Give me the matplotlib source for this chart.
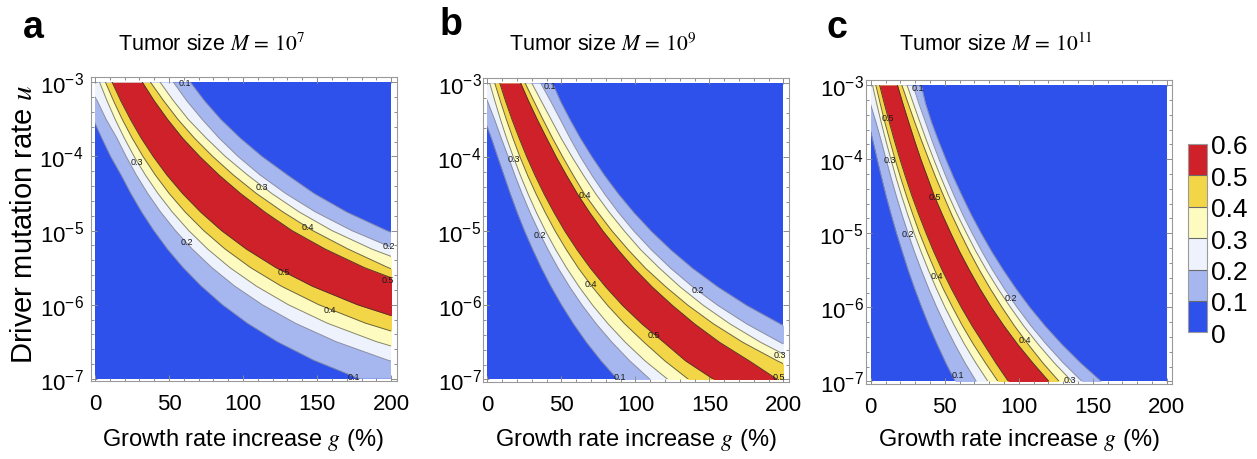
import matplotlib
matplotlib.use("Agg")
import matplotlib.pyplot as plt
import numpy as np
from matplotlib.colors import ListedColormap, BoundaryNorm
from matplotlib.cm import ScalarMappable
from matplotlib.patches import Rectangle
from matplotlib.ticker import MultipleLocator, FixedLocator, NullFormatter

plt.rcParams['font.family'] = ['Liberation Sans', 'DejaVu Sans']
plt.rcParams['mathtext.fontset'] = 'stix'

log_u = [-3, -3.25, -3.5, -3.75, -4, -4.25, -4.5, -4.75, -5,
         -5.25, -5.5, -5.75, -6, -6.25, -6.5, -6.75, -7]
levels = [0, 0.1, 0.2, 0.3, 0.4, 0.5, 0.6]
band_colors = ['#2e50eb', '#a6b7f0', '#eef2fc', '#fdfbbf', '#f2d647', '#cf2129']
line_colors = ['#7d86ad', '#8c8f9e', '#86866e', '#6c6540', '#5a3328']
tumor_exp = ['7', '9', '11']
panel_tags = ['a', 'b', 'c']

# g (%) of the contours 0.1 .. 0.5 on the lower-left side and upper-right side
a_lower = [[-12, -6, -1.2, 4.5, 10.5, 17.6, 24.2, 31.5, 39.7, 48.9, 59.5, 71.8, 86, 102.9, 123.1, 147.8, 178.6],
           [-6, 1.5, 7.5, 14.7, 21, 27.9, 35.6, 44.3, 54.3, 65.7, 78.9, 94.4, 112.9, 135.3, 162.9, 197.9, 243.5],
           [3.1, 8.1, 13.6, 19.7, 26.4, 34, 42.5, 52.2, 63.3, 76.1, 91.1, 109, 130.5, 156.9, 190.2, 233, 292],
           [7.1, 12.5, 18.4, 25, 32.4, 40.7, 50.1, 60.9, 73.4, 87.9, 105.1, 125.8, 151.1, 182.8, 223.7, 278, 355],
           [11.6, 17.4, 23.9, 31.1, 39.3, 48.5, 59.1, 71.3, 85.4, 102.2, 122.2, 146.7, 177.2, 216, 268, 341, 449]]
a_upper = [[64.5, 74, 85, 98, 112.8, 130, 148, 170, 197, 230, 274, 332, 411, 520, 680, 900, 1200],
           [53, 62, 72.4, 83.7, 96.6, 111.5, 128.8, 149, 173.4, 203, 240, 287, 349, 430, 540, 680, 860],
           [44, 53, 63, 75, 88, 103, 119.4, 138, 160, 187, 220, 261, 314, 385, 470, 580, 720],
           [37.5, 46.4, 56, 67, 79.5, 93.4, 109, 127, 147, 171, 198, 233, 278, 335, 410, 500, 620],
           [32, 40, 49, 59, 70.7, 83.7, 98.3, 114.7, 133, 155.5, 182, 215, 255, 305, 370, 450, 550]]

b_lower = [[-12, -6.5, -1.8, 2.8, 7, 11.3, 15.6, 20.2, 25.2, 30.7, 36.6, 43.1, 50.3, 58.2, 67, 76.9, 88],
           [-5, 0.2, 5, 9.5, 14.2, 18.7, 23.6, 28.9, 34.7, 41, 47.9, 55.6, 64.1, 73.6, 84.3, 96.3, 110],
           [1.6, 5.2, 9, 13.1, 17.6, 22.4, 27.6, 33.2, 39.4, 46.2, 53.7, 62, 71.2, 81.6, 93.3, 106.6, 122],
           [5, 8.9, 13, 17.4, 22.1, 27.3, 33, 39.2, 45.9, 53.4, 61.6, 70.9, 81.2, 92.8, 106, 120, 136],
           [8.4, 12.4, 16.8, 21.6, 26.7, 32.3, 38.4, 45.1, 52.4, 60.6, 69.7, 79.9, 91.3, 104.4, 119.3, 134, 153]]
b_upper = [[44, 49.5, 56, 63, 70.8, 79.3, 88.7, 99.1, 110.8, 123.9, 138.7, 155.7, 175.2, 198, 225, 257, 296.5],
           [36, 42.9, 49.5, 56, 63, 70.8, 79.3, 88.7, 99.1, 110.8, 123.9, 138.7, 155.7, 175.2, 198, 225, 257],
           [30, 36.6, 43.3, 50, 57.3, 65.1, 73.4, 82.6, 92.7, 103.6, 116.4, 130.2, 145.9, 163.9, 184.8, 209, 238],
           [25.5, 31.6, 37.8, 44.2, 51, 58.2, 65.7, 74.8, 84.4, 95.2, 106.9, 120.6, 135.6, 152.8, 172.7, 196, 222.6],
           [22.5, 28, 33.9, 40.2, 46.6, 53.6, 61, 69.2, 78.2, 88.3, 99.1, 111.3, 125, 140, 157, 177, 196]]

c_lower = [[-10, -5.5, -1.5, 1.4, 4.3, 7.3, 10.4, 13.8, 17.4, 21.3, 25.3, 29.7, 34.4, 39.4, 44.9, 50.7, 57.1],
           [-4, -0.3, 3.5, 7, 10.3, 13.7, 17.3, 21.1, 25.2, 29.5, 34.2, 39.2, 44.6, 50.5, 56.8, 63.7, 71.3],
           [1.2, 4, 7, 10.2, 13.6, 17.1, 20.9, 25, 29.3, 34, 39, 44.4, 50.2, 56.6, 63.4, 71, 79.2],
           [3.4, 6.4, 9.5, 12.9, 16.4, 20.2, 24.2, 28.5, 33, 38, 43.3, 49, 55.3, 62, 69.4, 77.5, 86],
           [6, 9.2, 12.5, 16, 19.7, 23.7, 27.9, 32.5, 37.4, 42.6, 48.3, 54.5, 61.2, 68.5, 76.5, 84.5, 93]]
c_upper = [[34, 37, 41, 45.7, 50.7, 56, 61.8, 67.9, 74.6, 81.8, 89.7, 98.2, 107.5, 117.8, 129.2, 141.8, 155.8],
           [28.5, 32.5, 37, 41.4, 46.1, 51.1, 56.5, 62.2, 68.5, 75.2, 82.4, 90.3, 98.9, 108.3, 118.7, 130.1, 142.8],
           [24.5, 28.8, 33.2, 37.7, 42.5, 47.5, 52.8, 58.5, 64.7, 71.2, 78.3, 86, 94.4, 103.3, 113.2, 124, 136],
           [21, 25.3, 29.7, 34.3, 39.1, 44, 49.3, 54.7, 60.6, 66.8, 73.5, 80.8, 88.7, 97.1, 106.4, 116.3, 127.3],
           [18, 21.7, 25.6, 29.6, 33.8, 38.4, 43, 48.4, 54.1, 60.1, 66.7, 73.8, 81.5, 90, 99.3, 109.5, 120.4]]

# contour labels: (text, g, log10 u)
a_labels = [("0.1", 61, -3.0), ("0.3", 28.5, -4.07), ("0.3", 112.6, -4.4),
            ("0.4", 143.5, -4.95), ("0.2", 61.7, -5.15), ("0.2", 198.4, -5.2),
            ("0.5", 127.8, -5.55), ("0.5", 198, -5.66), ("0.4", 158.5, -6.06),
            ("0.1", 175, -6.97)]
b_labels = [("0.1", 42.3, -3.03), ("0.3", 17.6, -4.02), ("0.4", 66, -4.51),
            ("0.2", 35.6, -5.05), ("0.4", 69.8, -5.7), ("0.2", 141.9, -5.79),
            ("0.5", 112.2, -6.39), ("0.3", 197.7, -6.66), ("0.1", 89.6, -6.96),
            ("0.5", 196.6, -6.96)]
c_labels = [("0.1", 31.8, -3.03), ("0.5", 11.9, -3.44), ("0.3", 13.1, -4.0),
            ("0.5", 43, -4.5), ("0.2", 25, -5.0), ("0.4", 45, -5.57),
            ("0.2", 94.8, -5.87), ("0.4", 104.3, -6.44), ("0.1", 58.8, -6.91),
            ("0.3", 134.7, -6.97)]

lowers = [a_lower, b_lower, c_lower]
uppers = [a_upper, b_upper, c_upper]
labels = [a_labels, b_labels, c_labels]

W, H = 1257, 460
fig = plt.figure(figsize=(W / 100, H / 100), dpi=100)

# frame corners in pixels: left, top
frames = [(90.6, 78.3), (482.9, 79.0), (866.3, 81.0)]
ypad = [5, 1, 2]
title_x = [211, 603, 996]
tag_pos = [(33, 28), (451, 25), (837, 28)]

u = 10.0 ** np.array(log_u)

for i in range(3):
    left, top = frames[i]
    ax = fig.add_axes([left / W, 1 - (top + 303.5) / H, 306 / W, 303.5 / H])
    ax.set_yscale('log')
    ax.set_xlim(-3.0, 203.7)
    ax.set_ylim(10 ** -7.027, 10 ** -2.932)

    clip = Rectangle((0, 1e-7), 200, 1e-3 - 1e-7, transform=ax.transData)
    ax.fill_betweenx([1e-7, 1e-3], 0, 200, color=band_colors[0], lw=0)
    for k in range(5):
        poly = ax.fill_betweenx(u, lowers[i][k], uppers[i][k],
                                color=band_colors[k + 1], lw=0)
        poly.set_clip_path(clip)
    for k in range(5):
        for curve in (lowers[i][k], uppers[i][k]):
            ln, = ax.plot(curve, u, color=line_colors[k], lw=0.7)
            ln.set_clip_path(clip)

    for txt, g, lu in labels[i]:
        ax.text(g, 10 ** lu, txt, fontsize=6.5, ha='center', va='center',
                color='#1a1a1a', clip_on=False)

    ax.xaxis.set_major_locator(MultipleLocator(50))
    ax.xaxis.set_minor_locator(MultipleLocator(10))
    ax.yaxis.set_major_locator(FixedLocator(10.0 ** np.arange(-7, -2)))
    ax.yaxis.set_minor_locator(FixedLocator(10.0 ** np.arange(-7, -2.9, 0.2)))
    ax.yaxis.set_minor_formatter(NullFormatter())
    ax.tick_params(which='both', direction='in', top=True, right=True,
                   color='#8c8c8c', labelsize=16, width=0.7)
    ax.tick_params(which='major', length=4)
    ax.tick_params(which='minor', length=2)
    ax.tick_params(axis='y', pad=ypad[i])
    ax.tick_params(axis='x', pad=9)
    for sp in ax.spines.values():
        sp.set_color('#9a9a9a')
        sp.set_linewidth(0.8)

    fig.text(title_x[i] / W, 1 - 45 / H,
             "Tumor size $M\\,=\\,10^{" + tumor_exp[i] + "}$",
             ha='center', va='center', fontsize=15.5)
    fig.text(tag_pos[i][0] / W, 1 - tag_pos[i][1] / H, panel_tags[i],
             ha='center', va='center', fontsize=27, fontweight='bold')
    fig.text((left + 4.4 + 148) / W, 1 - 440 / H, "Growth rate increase $g$ (%)",
             ha='center', va='center', fontsize=17)

fig.text(24 / W, 1 - 224 / H, "Driver mutation rate $u$", rotation=90,
         ha='center', va='center', fontsize=21)

cax = fig.add_axes([1188.3 / W, 1 - 333.3 / H, 19 / W, 188.3 / H])
cmap = ListedColormap(band_colors)
norm = BoundaryNorm(levels, cmap.N)
cb = fig.colorbar(ScalarMappable(norm=norm, cmap=cmap), cax=cax, ticks=levels,
                  drawedges=True)
cb.ax.set_yticklabels(['0', '0.1', '0.2', '0.3', '0.4', '0.5', '0.6'])
cb.outline.set_edgecolor('#9a9a9a')
cb.dividers.set_color('#6a6a6a')
cb.dividers.set_linewidth(0.8)
cb.ax.tick_params(length=0, labelsize=19, pad=3)

fig.savefig('out.png', dpi=100)
